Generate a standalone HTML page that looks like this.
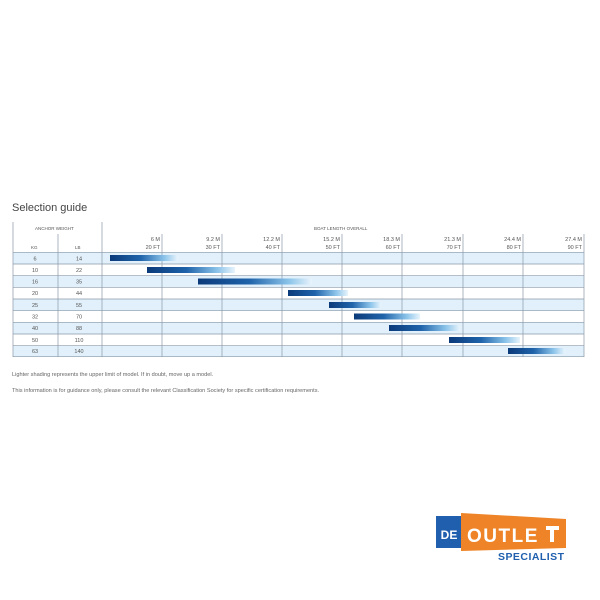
<!DOCTYPE html><html><head><style>body{margin:0;width:600px;height:600px;background:#fff;position:relative;font-family:"Liberation Sans",sans-serif;overflow:hidden}
.t{position:absolute;white-space:nowrap;color:#555}
</style></head><body>
<div class="t" style="left:12px;top:202px;font-size:11px;color:#444">Selection guide</div>
<svg width="600" height="600" style="position:absolute;left:0;top:0" font-family="Liberation Sans">
<defs><linearGradient id="g" x1="0" x2="1"><stop offset="0" stop-color="#0b3a7a"/><stop offset="0.45" stop-color="#1f63aa"/><stop offset="0.8" stop-color="#8cc4ea"/><stop offset="1" stop-color="#e8f4fc"/></linearGradient></defs>
<g fill="#e1f0fa">
<rect x="13" y="252.3" width="571" height="11.7"/><rect x="13" y="275.7" width="571" height="11.7"/><rect x="13" y="299" width="571" height="11.7"/><rect x="13" y="322.3" width="571" height="11.7"/><rect x="13" y="345.7" width="571" height="11"/></g>
<g stroke="#8a98a8" stroke-width="0.7">
<line x1="13" x2="584" y1="252.3" y2="252.3"/><line x1="13" x2="584" y1="264" y2="264"/><line x1="13" x2="584" y1="275.7" y2="275.7"/><line x1="13" x2="584" y1="287.3" y2="287.3"/><line x1="13" x2="584" y1="299" y2="299"/><line x1="13" x2="584" y1="310.7" y2="310.7"/><line x1="13" x2="584" y1="322.3" y2="322.3"/><line x1="13" x2="584" y1="334" y2="334"/><line x1="13" x2="584" y1="345.7" y2="345.7"/><line x1="13" x2="584" y1="356.7" y2="356.7"/>
<line x1="13" x2="13" y1="222" y2="357"/><line x1="58" x2="58" y1="234" y2="357"/><line x1="102" x2="102" y1="222" y2="357"/>
<line x1="162" x2="162" y1="234" y2="357"/><line x1="222" x2="222" y1="234" y2="357"/><line x1="282" x2="282" y1="234" y2="357"/><line x1="342" x2="342" y1="234" y2="357"/><line x1="402" x2="402" y1="234" y2="357"/><line x1="463" x2="463" y1="234" y2="357"/><line x1="523" x2="523" y1="234" y2="357"/><line x1="584" x2="584" y1="234" y2="357"/>
</g>
<g fill="url(#g)">
<rect x="110" y="255" width="68" height="6"/><rect x="147" y="267" width="88" height="6"/><rect x="198" y="278.5" width="114" height="6"/><rect x="288" y="290" width="60" height="6"/><rect x="329" y="302" width="52" height="6"/><rect x="354" y="313.5" width="66" height="6"/><rect x="389" y="325" width="71" height="6"/><rect x="449" y="337" width="71" height="6"/><rect x="508" y="348" width="57" height="6"/>
</g>
<g font-size="4.5" fill="#555"><text x="35" y="230">ANCHOR WEIGHT</text><text x="314" y="230">BOAT LENGTH OVERALL</text><text x="31" y="249">KG</text><text x="75" y="249">LB</text></g>
<g font-size="5.5" fill="#555" text-anchor="end">
<text x="160" y="241">6 M</text><text x="160" y="249">20 FT</text><text x="220" y="241">9.2 M</text><text x="220" y="249">30 FT</text><text x="280" y="241">12.2 M</text><text x="280" y="249">40 FT</text><text x="340" y="241">15.2 M</text><text x="340" y="249">50 FT</text><text x="400" y="241">18.3 M</text><text x="400" y="249">60 FT</text><text x="461" y="241">21.3 M</text><text x="461" y="249">70 FT</text><text x="521" y="241">24.4 M</text><text x="521" y="249">80 FT</text><text x="582" y="241">27.4 M</text><text x="582" y="249">90 FT</text></g>
<g font-size="5.5" fill="#555" text-anchor="middle">
<text x="35" y="260.5">6</text><text x="79" y="260.5">14</text><text x="35" y="272">10</text><text x="79" y="272">22</text><text x="35" y="283.5">16</text><text x="79" y="283.5">35</text><text x="35" y="295">20</text><text x="79" y="295">44</text><text x="35" y="307">25</text><text x="79" y="307">55</text><text x="35" y="318.5">32</text><text x="79" y="318.5">70</text><text x="35" y="330">40</text><text x="79" y="330">88</text><text x="35" y="342">50</text><text x="79" y="342">110</text><text x="35" y="353">63</text><text x="79" y="353">140</text></g>
<g font-size="5.6" fill="#666"><text x="12" y="376">Lighter shading represents the upper limit of model. If in doubt, move up a model.</text><text x="12" y="392">This information is for guidance only, please consult the relevant Classification Society for specific certification requirements.</text></g>
<rect x="436" y="516" width="26" height="32" fill="#1f5fae"/>
<polygon points="461,513 566,519 566,548 461,551" fill="#ee8427"/>
<text x="449" y="539" font-size="12" font-weight="bold" fill="#fff" text-anchor="middle">DE</text>
<text x="467" y="542" font-size="19" font-weight="bold" fill="#fff" letter-spacing="1.5">OUTLE</text>
<g fill="#fff"><rect x="546" y="526" width="13" height="4"/><rect x="550" y="528" width="4" height="14"/></g>
<text x="498" y="560" font-size="10.5" font-weight="bold" fill="#1f5fae" textLength="66">SPECIALIST</text>
</svg>
</body></html>
